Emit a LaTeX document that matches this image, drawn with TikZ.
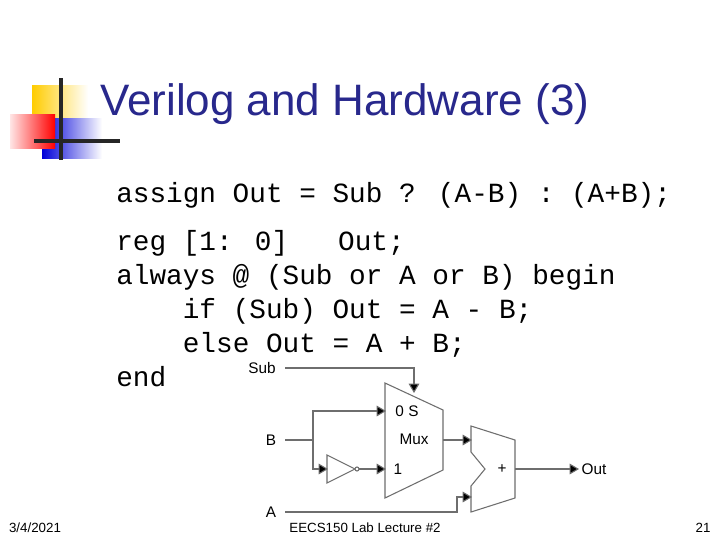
\documentclass[tikz,border=0pt]{standalone}
\usepackage{fontspec}
\setmainfont{Liberation Sans}
\newfontfamily\codefont{Liberation Mono}
\usetikzlibrary{arrows.meta}
\definecolor{navy}{RGB}{40,40,140}
\definecolor{lgray}{RGB}{110,110,110}
\definecolor{logoyellow}{RGB}{255,204,0}
\begin{document}
\begin{tikzpicture}[x=0.75pt,y=-0.75pt,
  code/.style={anchor=base west,inner sep=0,font=\codefont\fontsize{20.8}{24}\selectfont},
  lab/.style={font=\fontsize{11.5}{13}\selectfont,inner sep=0pt},
  foot/.style={font=\fontsize{10}{12}\selectfont,inner sep=0},
  wire/.style={draw=lgray,line width=0.8pt},
  arr/.style={wire,-{Triangle[length=7pt,width=8pt,fill=black]}},
  gate/.style={draw=lgray,line width=0.8pt,fill=white}]
\useasboundingbox (0,0) rectangle (720,540);
\fill[white] (0,0) rectangle (720,540);
% logo
\shade[left color=logoyellow,right color=white] (32,85) rectangle (88,118);
\shade[left color=blue!85!black,right color=white] (42,118) rectangle (102,158);
\shade[left color=red!10,right color=red] (10,114) rectangle (55,148);
\draw[line width=2.5pt,black!85] (61,78) -- (61,160);
\draw[line width=2.5pt,black!85] (34,141) -- (120,141);
\node[anchor=west,text=navy,inner sep=0,font=\fontsize{33}{38}\selectfont] (title) at (100,104) {Verilog and Hardware (3)};
% code
\node[code] (l1) at (116,202) {assign Out = Sub ? (A-B) : (A+B);};
\node[code] (l2) at (116,250) {reg [1: 0]\ \ \ Out;};
\node[code] (l3) at (116,284) {always @ (Sub or A or B) begin};
\node[code] (l4) at (116,318) {\ \ \ \ if (Sub) Out = A - B;};
\node[code] (l5) at (116,352) {\ \ \ \ else Out = A + B;};
\node[code] (l6) at (116,386) {end};
% circuit
\draw[gate] (385,383) -- (443,410) -- (443,470) -- (385,498) -- cycle;
\draw[gate] (471,426) -- (515,440) -- (515,498) -- (471,512) -- (471,486) -- (485,469) -- (471,452) -- cycle;
\draw[gate] (327,455) -- (355,469) -- (327,483) -- cycle;
\draw[gate] (357,469) circle (2);
\node[lab] (sub) at (262,368) {Sub};
\node[lab] (b) at (271,440) {B};
\node[lab] (a) at (271,512) {A};
\node[lab] (out) at (594,469) {Out};
\node[lab] (s) at (407,411) {0 S};
\node[lab] (mux) at (414,439) {Mux};
\node[lab] (one) at (398,469) {1};
\node[lab] (plus) at (502,469) {+};
\coordinate (bj) at (313,440);
\draw[arr] (285,368) -- (414,368) -- (414,393);
\draw[wire] (285,440) -- (bj);
\draw[arr] (bj) -- (313,411) -- (386,411);
\draw[arr] (bj) -- (313,469) -- (328,469);
\draw[arr] (359,469) -- (386,469);
\draw[arr] (443,440) -- (472,440);
\draw[arr] (515,469) -- (579,469);
\draw[arr] (285,512) -- (457,512) -- (457,497) -- (472,497);
% footer
\node[foot] (date) at (35,528) {3/4/2021};
\node[foot] (lec) at (365,528) {EECS150 Lab Lecture \#2};
\node[foot] (pg) at (703,528) {21};
\end{tikzpicture}
\end{document}
